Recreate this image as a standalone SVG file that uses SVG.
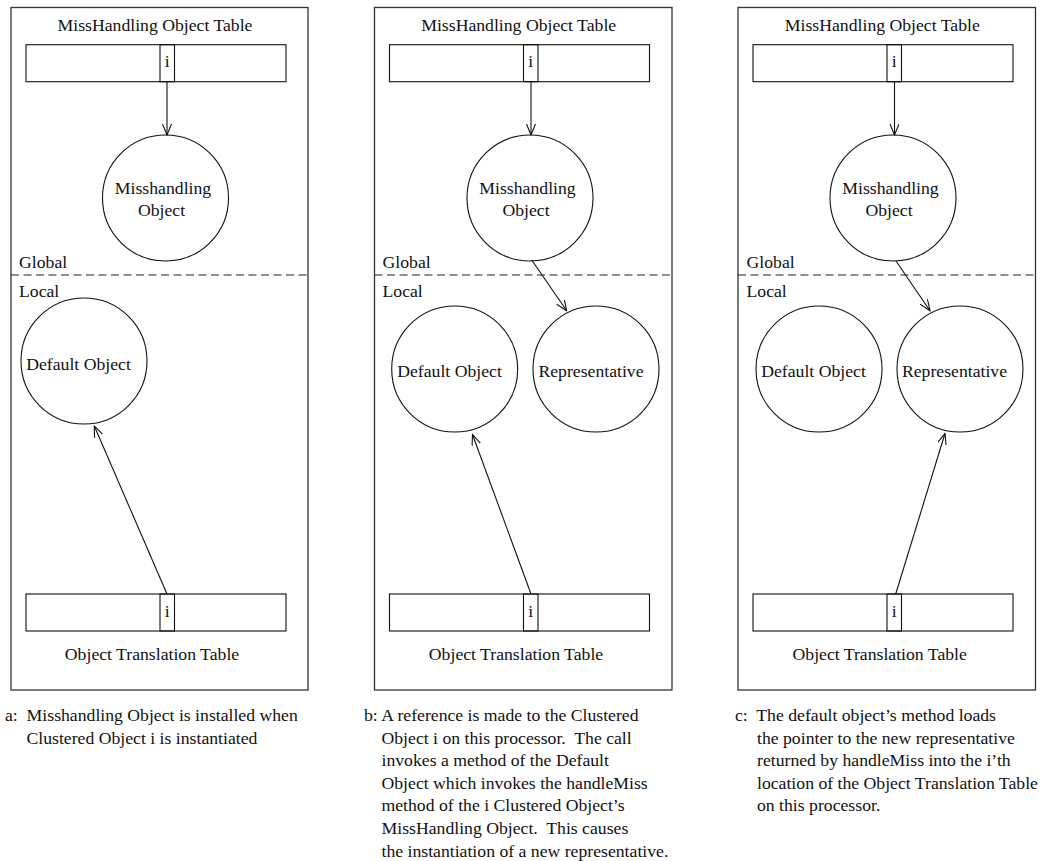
<svg xmlns="http://www.w3.org/2000/svg" width="1041" height="861" viewBox="0 0 1041 861">
  <style>
    text { font-family: "Liberation Serif", "Times New Roman", serif; font-size: 17.7px; fill: #111; }
    .mid { text-anchor: middle; }
    .cap text { white-space: pre; }
    .panel { fill: none; stroke: #333; stroke-width: 1.3; }
    .cell { fill: none; stroke: #111; stroke-width: 1.1; }
    .obj { fill: none; stroke: #111; stroke-width: 1.1; }
    .divider { stroke: #222; stroke-width: 1.1; stroke-dasharray: 8 4.5; }
    .link { fill: none; stroke: #111; stroke-width: 1.1; marker-end: url(#open-arrow); }
  </style>
  <defs>
    <marker id="open-arrow" markerUnits="userSpaceOnUse" markerWidth="12" markerHeight="10" refX="11" refY="4.5" orient="auto">
      <path d="M0,0 L11,4.5 L0,9" fill="none" stroke="#111" stroke-width="1.1"/>
    </marker>
  </defs>

  <rect width="1041" height="861" fill="#fff"/>

  <!-- ===== Panel a ===== -->
  <g id="panel-a">
    <rect class="panel" x="11" y="7.5" width="297" height="682.5"/>
    <line class="divider" x1="11" y1="275" x2="308" y2="275"/>
    <text x="19" y="268">Global</text>
    <text x="19" y="297">Local</text>
  </g>
  <g id="a-mho-table">
    <text class="mid" x="155" y="30.5">MissHandling Object Table</text>
    <rect class="cell" x="26" y="44.7" width="260" height="37"/>
    <rect class="cell" x="160" y="44.7" width="14.5" height="37"/>
    <text class="mid" x="167.25" y="66.7">i</text>
  </g>
  <g id="a-misshandling">
    <circle class="obj" cx="165.5" cy="198" r="63"/>
    <text class="mid" x="163" y="193.5">Misshandling</text>
    <text class="mid" x="161.5" y="215.5">Object</text>
  </g>
  <g id="a-default">
    <circle class="obj" cx="84" cy="361" r="63"/>
    <text class="mid" x="78.5" y="369.5">Default Object</text>
  </g>
  <g id="a-ott">
    <rect class="cell" x="26" y="594" width="260" height="37"/>
    <rect class="cell" x="160" y="594" width="14.5" height="37"/>
    <text class="mid" x="167.25" y="616.5">i</text>
    <text class="mid" x="152" y="660">Object Translation Table</text>
  </g>
  <g id="a-caption" class="cap">
    <text x="5" y="721">a:  Misshandling Object is installed when</text>
    <text x="26.5" y="743.6">Clustered Object i is instantiated</text>
  </g>

  <!-- ===== Panel b ===== -->
  <g id="panel-b">
    <rect class="panel" x="374.5" y="7.5" width="297.5" height="682.5"/>
    <line class="divider" x1="374.5" y1="275" x2="672" y2="275"/>
    <text x="382.5" y="268">Global</text>
    <text x="382.5" y="297">Local</text>
  </g>
  <g id="b-mho-table">
    <text class="mid" x="518.7" y="30.5">MissHandling Object Table</text>
    <rect class="cell" x="389.5" y="44.7" width="260" height="37"/>
    <rect class="cell" x="523.5" y="44.7" width="14.5" height="37"/>
    <text class="mid" x="530.75" y="66.7">i</text>
  </g>
  <g id="b-misshandling">
    <circle class="obj" cx="530" cy="198" r="63"/>
    <text class="mid" x="527.5" y="193.5">Misshandling</text>
    <text class="mid" x="526" y="215.5">Object</text>
  </g>
  <g id="b-default">
    <circle class="obj" cx="454.7" cy="369" r="63"/>
    <text class="mid" x="449.5" y="377">Default Object</text>
  </g>
  <g id="b-representative">
    <circle class="obj" cx="596" cy="369" r="63"/>
    <text class="mid" x="591" y="377">Representative</text>
  </g>
  <g id="b-ott">
    <rect class="cell" x="389.5" y="594" width="260" height="37"/>
    <rect class="cell" x="523.5" y="594" width="14.5" height="37"/>
    <text class="mid" x="530.75" y="616.5">i</text>
    <text class="mid" x="516" y="660">Object Translation Table</text>
  </g>
  <g id="b-caption" class="cap">
    <text x="364" y="721">b: A reference is made to the Clustered</text>
    <text x="381.5" y="743.6">Object i on this processor.  The call</text>
    <text x="381.5" y="766.2">invokes a method of the Default</text>
    <text x="381.5" y="788.8">Object which invokes the handleMiss</text>
    <text x="381.5" y="811.4">method of the i Clustered Object’s</text>
    <text x="381.5" y="834">MissHandling Object.  This causes</text>
    <text x="381.5" y="856.6">the instantiation of a new representative.</text>
  </g>

  <!-- ===== Panel c ===== -->
  <g id="panel-c">
    <rect class="panel" x="738" y="7.5" width="297.5" height="682.5"/>
    <line class="divider" x1="738" y1="275" x2="1035.5" y2="275"/>
    <text x="746.5" y="268">Global</text>
    <text x="746.5" y="297">Local</text>
  </g>
  <g id="c-mho-table">
    <text class="mid" x="882.3" y="30.5">MissHandling Object Table</text>
    <rect class="cell" x="753" y="44.7" width="260" height="37"/>
    <rect class="cell" x="887" y="44.7" width="14.5" height="37"/>
    <text class="mid" x="894.25" y="66.7">i</text>
  </g>
  <g id="c-misshandling">
    <circle class="obj" cx="893" cy="198" r="63"/>
    <text class="mid" x="890.5" y="193.5">Misshandling</text>
    <text class="mid" x="889" y="215.5">Object</text>
  </g>
  <g id="c-default">
    <circle class="obj" cx="819" cy="369" r="63"/>
    <text class="mid" x="813.5" y="377">Default Object</text>
  </g>
  <g id="c-representative">
    <circle class="obj" cx="960" cy="369" r="63"/>
    <text class="mid" x="954.5" y="377">Representative</text>
  </g>
  <g id="c-ott">
    <rect class="cell" x="753" y="594" width="260" height="37"/>
    <rect class="cell" x="887" y="594" width="14.5" height="37"/>
    <text class="mid" x="894.25" y="616.5">i</text>
    <text class="mid" x="879.7" y="660">Object Translation Table</text>
  </g>
  <g id="c-caption" class="cap">
    <text x="735" y="721">c:  The default object’s method loads</text>
    <text x="757" y="743.6">the pointer to the new representative</text>
    <text x="757" y="766.2">returned by handleMiss into the i’th</text>
    <text x="757" y="788.8">location of the Object Translation Table</text>
    <text x="757" y="811.4">on this processor.</text>
  </g>

  <!-- ===== Connectors ===== -->
  <g id="connectors">
    <line class="link" x1="167" y1="82" x2="167" y2="135"/>
    <line class="link" x1="167" y1="594" x2="94.3" y2="426"/>

    <line class="link" x1="531" y1="82" x2="531" y2="135"/>
    <line class="link" x1="531.7" y1="260" x2="566.7" y2="310.7"/>
    <line class="link" x1="531" y1="594" x2="472.5" y2="434.5"/>

    <line class="link" x1="894.5" y1="82" x2="894.5" y2="135"/>
    <line class="link" x1="896" y1="261" x2="930" y2="310.7"/>
    <line class="link" x1="895.7" y1="594" x2="945" y2="433.5"/>
  </g>
</svg>
